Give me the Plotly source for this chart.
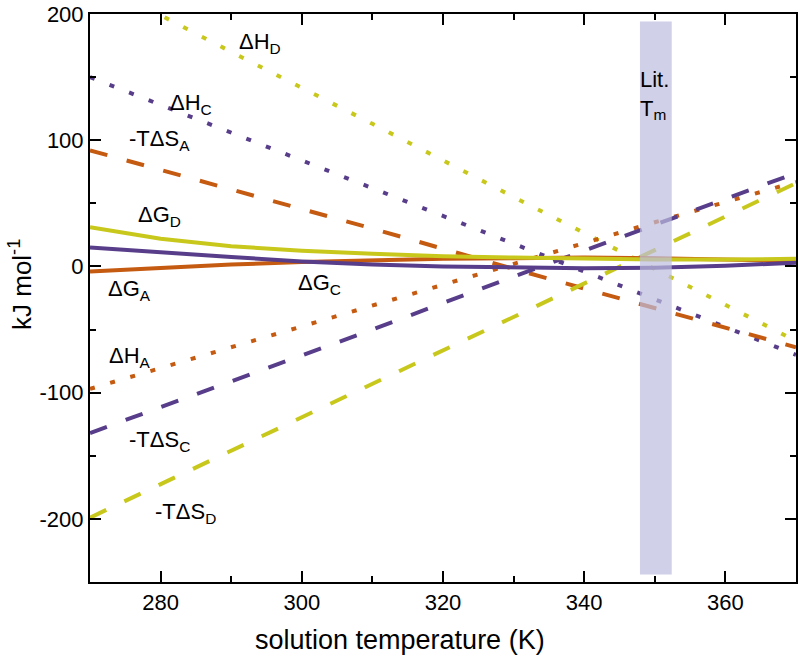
import plotly.graph_objects as go

T = [270, 290, 310, 330, 350, 370]
T_fine = [270, 280, 290, 300, 310, 320, 330, 340, 350, 360, 370]

dH_A = [-97, -64, -31, 2, 35, 67]
mTdS_A = [92, 61, 30, -2, -33, -64]
dH_C = [150, 106, 62, 18, -26, -70]
mTdS_C = [-132, -91, -50, -8, 33, 74]
dH_D = [228, 170, 113, 55, -2, -59]
mTdS_D = [-199, -146, -93, -40, 13, 66]

dG_A = [-4, -1, 1.5, 3.5, 5, 6, 6.5, 7, 6.5, 5.5, 4.5]
dG_C = [15, 11, 7.5, 4, 1.5, 0, -1, -1.5, -1, 0.5, 3]
dG_D = [31, 22, 16, 12.5, 10, 8, 7, 6, 5.5, 5.5, 6]

band_T = [347.9, 352.4]
band_y = [-244, 194]

x_tickvals = [280, 300, 320, 340, 360]
x_ticktext = ["280", "300", "320", "340", "360"]
y_tickvals = [-200, -100, 0, 100, 200]
y_ticktext = ["-200", "-100", "0", "100", "200"]

ORANGE = "rgb(197,90,17)"
PURPLE = "rgb(88,62,138)"
YELLOW = "rgb(200,200,28)"
DOT = "5px,16px"
DASH = "18px,20px"

fig = go.Figure()

def add(x, y, color, dash, width=4):
    fig.add_trace(go.Scatter(x=x, y=y, mode="lines",
                             line=dict(color=color, width=width, dash=dash),
                             showlegend=False, hoverinfo="skip"))

add(T, dH_D, YELLOW, DOT)
add(T, dH_C, PURPLE, DOT)
add(T, dH_A, ORANGE, DOT)
add(T, mTdS_A, ORANGE, DASH)
add(T, mTdS_C, PURPLE, DASH)
add(T, mTdS_D, YELLOW, DASH)
add(T_fine, dG_A, ORANGE, "solid")
add(T_fine, dG_C, PURPLE, "solid")
add(T_fine, dG_D, YELLOW, "solid")

fig.add_shape(type="rect", xref="x", yref="y",
              x0=band_T[0], x1=band_T[1], y0=band_y[0], y1=band_y[1],
              fillcolor="rgb(188,188,222)", opacity=0.7, line_width=0, layer="above")

labels = [
    (294.1, 177, "ΔH<sub>D</sub>"),
    (284.3, 129, "ΔH<sub>C</sub>"),
    (279.8, 100, "-TΔS<sub>A</sub>"),
    (279.8, 40, "ΔG<sub>D</sub>"),
    (275.6, -19, "ΔG<sub>A</sub>"),
    (302.5, -14, "ΔG<sub>C</sub>"),
    (275.6, -72, "ΔH<sub>A</sub>"),
    (279.8, -138, "-TΔS<sub>C</sub>"),
    (283.5, -195, "-TΔS<sub>D</sub>"),
    (349.9, 136, "Lit.<br>T<sub>m</sub>"),
]
for x, y, t in labels:
    fig.add_annotation(x=x, y=y, text=t, showarrow=False, xref="x", yref="y",
                       font=dict(size=22, color="black"), align="left")

fig.add_annotation(x=(400 - 90) / 706, y=(582 - 640) / 568, xref="paper", yref="paper",
                   text="solution temperature (K)", showarrow=False,
                   font=dict(size=27, color="black"), xanchor="center", yanchor="middle")
fig.add_annotation(x=0, y=(582 - 285) / 568, xref="paper", yref="paper", xshift=-70,
                   text="kJ mol<sup>-1</sup>", showarrow=False, textangle=-90,
                   font=dict(size=26, color="black"), xanchor="center", yanchor="middle")

fig.update_xaxes(range=[270, 370], tickmode="array", tickvals=x_tickvals, ticktext=x_ticktext,
                 automargin=False,
                 showline=True, linecolor="black", linewidth=2, mirror="ticks",
                 ticks="inside", ticklen=11, tickwidth=2, tickcolor="black",
                 showgrid=False, zeroline=False,
                 minor=dict(ticks="inside", ticklen=6, tickwidth=2, tickcolor="black",
                            tickvals=[270, 290, 310, 330, 350, 370]),
                 tickfont=dict(size=22, color="black"))
fig.update_yaxes(range=[-250, 200], tickmode="array", tickvals=y_tickvals, ticktext=y_ticktext,
                 automargin=False,
                 showline=True, linecolor="black", linewidth=2, mirror="ticks",
                 ticks="inside", ticklen=11, tickwidth=2, tickcolor="black",
                 showgrid=False, zeroline=False,
                 minor=dict(ticks="inside", ticklen=6, tickwidth=2, tickcolor="black",
                            tickvals=[-250, -150, -50, 50, 150]),
                 tickfont=dict(size=22, color="black"))

fig.update_layout(width=800, height=670, margin=dict(l=90, r=4, t=14, b=88),
                  plot_bgcolor="white", paper_bgcolor="white",
                  font=dict(family="Liberation Sans, Arial, sans-serif", color="black"))

fig.write_html("out.html", config={"displayModeBar": False},
               post_script="document.body.style.margin='0';")
